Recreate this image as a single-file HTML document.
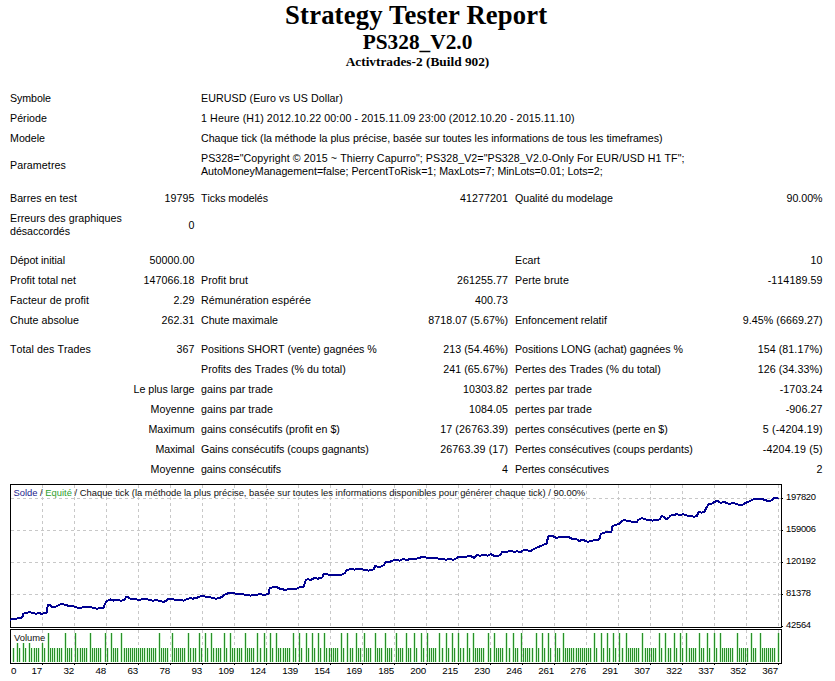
<!DOCTYPE html>
<html><head><meta charset="utf-8"><title>Strategy Tester Report</title>
<style>
html,body{margin:0;padding:0;background:#fff;}
body{width:835px;height:681px;position:relative;overflow:hidden;}
.h{position:absolute;left:0;width:835px;text-align:center;font-family:"Liberation Serif",serif;font-weight:bold;color:#000;white-space:nowrap;}
.t{position:absolute;font-family:"Liberation Sans",sans-serif;font-size:10.6667px;line-height:13px;color:#000;white-space:nowrap;font-kerning:none;}
.chart{position:absolute;left:0;top:0;}
.cl{position:absolute;font-family:"Liberation Sans",sans-serif;font-size:9.8px;letter-spacing:-0.2px;line-height:10px;color:#000;white-space:nowrap;}
.cy{position:absolute;font-family:"Liberation Sans",sans-serif;font-size:9.4px;letter-spacing:-0.25px;line-height:10px;color:#000;white-space:nowrap;}
.ch{position:absolute;font-family:"Liberation Sans",sans-serif;font-size:9.4px;line-height:10px;color:#111;white-space:nowrap;}
</style></head><body>
<div class="h" style="top:0px;left:-1.25px;letter-spacing:0.167px;font-size:26.6667px;line-height:30px">Strategy Tester Report</div>
<div class="h" style="top:30px;font-size:21.3333px;line-height:25px">PS328_V2.0</div>
<div class="h" style="top:54px;font-size:13.3333px;line-height:16px">Activtrades-2 (Build 902)</div>
<div class="t" style="top:92px;left:10px;letter-spacing:-0.071px">Symbole</div>
<div class="t" style="top:92px;left:201px;letter-spacing:0.082px">EURUSD (Euro vs US Dollar)</div>
<div class="t" style="top:112px;left:10px;letter-spacing:0.033px">Période</div>
<div class="t" style="top:112px;left:201px;letter-spacing:0.101px">1 Heure (H1) 2012.10.22 00:00 - 2015.11.09 23:00 (2012.10.20 - 2015.11.10)</div>
<div class="t" style="top:132px;left:10px;letter-spacing:0.003px">Modele</div>
<div class="t" style="top:132px;left:201px;letter-spacing:-0.011px">Chaque tick (la méthode la plus précise, basée sur toutes les informations de tous les timeframes)</div>
<div class="t" style="top:158.5px;left:10px;letter-spacing:0.087px">Parametres</div>
<div class="t" style="top:152px;left:201px;letter-spacing:0.074px">PS328=&quot;Copyright © 2015 ~ Thierry Capurro&quot;; PS328_V2=&quot;PS328_V2.0-Only For EUR/USD H1 TF&quot;;</div>
<div class="t" style="top:165px;left:201px;letter-spacing:-0.012px">AutoMoneyManagement=false; PercentToRisk=1; MaxLots=7; MinLots=0.01; Lots=2;</div>
<div class="t" style="top:192px;left:10px;letter-spacing:0.043px">Barres en test</div>
<div class="t" style="top:192px;right:640.43px;letter-spacing:0.068px">19795</div>
<div class="t" style="top:192px;left:201px;letter-spacing:-0.090px">Ticks modelés</div>
<div class="t" style="top:192px;right:326.93px;letter-spacing:0.068px">41277201</div>
<div class="t" style="top:192px;left:515px;letter-spacing:-0.023px">Qualité du modelage</div>
<div class="t" style="top:192px;right:12.53px;letter-spacing:-0.030px">90.00%</div>
<div class="t" style="top:212px;left:10px;letter-spacing:0.051px">Erreurs des graphiques</div>
<div class="t" style="top:225px;left:10px;letter-spacing:-0.044px">désaccordés</div>
<div class="t" style="top:218.5px;right:640.43px;letter-spacing:0.068px">0</div>
<div class="t" style="top:254px;left:10px;letter-spacing:-0.057px">Dépot initial</div>
<div class="t" style="top:254px;right:640.44px;letter-spacing:0.064px">50000.00</div>
<div class="t" style="top:254px;left:515px;letter-spacing:0.021px">Ecart</div>
<div class="t" style="top:254px;right:12.43px;letter-spacing:0.068px">10</div>
<div class="t" style="top:274px;left:10px;letter-spacing:0.012px">Profit total net</div>
<div class="t" style="top:274px;right:640.44px;letter-spacing:0.064px">147066.18</div>
<div class="t" style="top:274px;left:201px;letter-spacing:0.069px">Profit brut</div>
<div class="t" style="top:274px;right:326.94px;letter-spacing:0.064px">261255.77</div>
<div class="t" style="top:274px;left:515px;letter-spacing:0.112px">Perte brute</div>
<div class="t" style="top:274px;right:12.40px;letter-spacing:0.103px">-114189.59</div>
<div class="t" style="top:294px;left:10px;letter-spacing:0.078px">Facteur de profit</div>
<div class="t" style="top:294px;right:640.44px;letter-spacing:0.060px">2.29</div>
<div class="t" style="top:294px;left:201px;letter-spacing:0.074px">Rémunération espérée</div>
<div class="t" style="top:294px;right:326.94px;letter-spacing:0.062px">400.73</div>
<div class="t" style="top:314px;left:10px;letter-spacing:0.016px">Chute absolue</div>
<div class="t" style="top:314px;right:640.44px;letter-spacing:0.062px">262.31</div>
<div class="t" style="top:314px;left:201px;letter-spacing:-0.005px">Chute maximale</div>
<div class="t" style="top:314px;right:326.92px;letter-spacing:0.075px">8718.07 (5.67%)</div>
<div class="t" style="top:314px;left:515px;letter-spacing:0.005px">Enfoncement relatif</div>
<div class="t" style="top:314px;right:12.42px;letter-spacing:0.075px">9.45% (6669.27)</div>
<div class="t" style="top:343px;left:10px;letter-spacing:0.060px">Total des Trades</div>
<div class="t" style="top:343px;right:640.43px;letter-spacing:0.068px">367</div>
<div class="t" style="top:343px;left:201px;letter-spacing:-0.002px">Positions SHORT (vente) gagnées %</div>
<div class="t" style="top:343px;right:326.92px;letter-spacing:0.080px">213 (54.46%)</div>
<div class="t" style="top:343px;left:515px;letter-spacing:-0.030px">Positions LONG (achat) gagnées %</div>
<div class="t" style="top:343px;right:12.42px;letter-spacing:0.080px">154 (81.17%)</div>
<div class="t" style="top:363px;left:201px;letter-spacing:0.030px">Profits des Trades (% du total)</div>
<div class="t" style="top:363px;right:326.92px;letter-spacing:0.080px">241 (65.67%)</div>
<div class="t" style="top:363px;left:515px;letter-spacing:0.045px">Pertes des Trades (% du total)</div>
<div class="t" style="top:363px;right:12.42px;letter-spacing:0.080px">126 (34.33%)</div>
<div class="t" style="top:383px;right:640.51px;letter-spacing:-0.006px">Le plus large</div>
<div class="t" style="top:383px;left:201px;letter-spacing:0.056px">gains par trade</div>
<div class="t" style="top:383px;right:326.94px;letter-spacing:0.064px">10303.82</div>
<div class="t" style="top:383px;left:515px;letter-spacing:0.106px">pertes par trade</div>
<div class="t" style="top:383px;right:12.39px;letter-spacing:0.111px">-1703.24</div>
<div class="t" style="top:403px;right:640.48px;letter-spacing:0.017px">Moyenne</div>
<div class="t" style="top:403px;left:201px;letter-spacing:0.056px">gains par trade</div>
<div class="t" style="top:403px;right:326.94px;letter-spacing:0.063px">1084.05</div>
<div class="t" style="top:403px;left:515px;letter-spacing:0.106px">pertes par trade</div>
<div class="t" style="top:403px;right:12.38px;letter-spacing:0.118px">-906.27</div>
<div class="t" style="top:423px;right:640.53px;letter-spacing:-0.032px">Maximum</div>
<div class="t" style="top:423px;left:201px;letter-spacing:-0.011px">gains consécutifs (profit en $)</div>
<div class="t" style="top:423px;right:326.88px;letter-spacing:0.121px">17 (26763.39)</div>
<div class="t" style="top:423px;left:515px;letter-spacing:0.020px">pertes consécutives (perte en $)</div>
<div class="t" style="top:423px;right:12.34px;letter-spacing:0.158px">5 (-4204.19)</div>
<div class="t" style="top:443px;right:640.60px;letter-spacing:-0.101px">Maximal</div>
<div class="t" style="top:443px;left:201px;letter-spacing:-0.046px">Gains consécutifs (coups gagnants)</div>
<div class="t" style="top:443px;right:326.88px;letter-spacing:0.121px">26763.39 (17)</div>
<div class="t" style="top:443px;left:515px;letter-spacing:-0.013px">Pertes consécutives (coups perdants)</div>
<div class="t" style="top:443px;right:12.34px;letter-spacing:0.158px">-4204.19 (5)</div>
<div class="t" style="top:463px;right:640.48px;letter-spacing:0.017px">Moyenne</div>
<div class="t" style="top:463px;left:201px;letter-spacing:-0.107px">gains consécutifs</div>
<div class="t" style="top:463px;right:326.93px;letter-spacing:0.068px">4</div>
<div class="t" style="top:463px;left:515px;letter-spacing:-0.076px">Pertes consécutives</div>
<div class="t" style="top:463px;right:12.43px;letter-spacing:0.068px">2</div>
<svg class="chart" width="835" height="681" viewBox="0 0 835 681">
<path d="M13.5 648V662 M17.5 643V662 M19.5 648V662 M23.5 643V662 M25.5 648V662 M29.5 643V662 M31.5 648V662 M34.5 648V662 M36.5 648V662 M38.5 648V662 M42.5 643V662 M44.5 648V662 M48.5 633V662 M50.5 648V662 M52.5 648V662 M54.5 648V662 M57.5 648V662 M59.5 648V662 M61.5 648V662 M65.5 633V662 M67.5 648V662 M69.5 648V662 M71.5 648V662 M75.5 633V662 M77.5 648V662 M80.5 648V662 M82.5 648V662 M84.5 648V662 M86.5 648V662 M90.5 633V662 M92.5 648V662 M94.5 648V662 M96.5 648V662 M98.5 648V662 M100.5 648V662 M105.5 633V662 M107.5 648V662 M111.5 633V662 M113.5 648V662 M115.5 648V662 M117.5 648V662 M121.5 633V662 M124.5 648V662 M126.5 648V662 M128.5 648V662 M130.5 648V662 M132.5 648V662 M134.5 648V662 M136.5 648V662 M138.5 648V662 M140.5 648V662 M142.5 648V662 M144.5 648V662 M147.5 648V662 M149.5 648V662 M151.5 648V662 M153.5 648V662 M155.5 648V662 M159.5 633V662 M161.5 648V662 M163.5 648V662 M165.5 648V662 M167.5 648V662 M172.5 633V662 M174.5 648V662 M176.5 648V662 M178.5 648V662 M180.5 648V662 M182.5 648V662 M184.5 648V662 M188.5 633V662 M190.5 648V662 M193.5 648V662 M195.5 648V662 M199.5 633V662 M201.5 648V662 M205.5 633V662 M207.5 648V662 M211.5 633V662 M213.5 648V662 M216.5 648V662 M218.5 648V662 M220.5 648V662 M224.5 633V662 M226.5 648V662 M230.5 633V662 M232.5 648V662 M234.5 648V662 M237.5 648V662 M239.5 648V662 M241.5 648V662 M245.5 633V662 M247.5 648V662 M249.5 648V662 M251.5 648V662 M253.5 648V662 M257.5 633V662 M260.5 648V662 M264.5 633V662 M266.5 648V662 M270.5 633V662 M272.5 648V662 M276.5 633V662 M278.5 648V662 M280.5 648V662 M283.5 648V662 M285.5 648V662 M287.5 648V662 M289.5 648V662 M293.5 633V662 M295.5 648V662 M299.5 633V662 M301.5 648V662 M306.5 633V662 M308.5 648V662 M312.5 633V662 M314.5 648V662 M318.5 633V662 M320.5 648V662 M324.5 633V662 M326.5 648V662 M329.5 648V662 M331.5 648V662 M333.5 648V662 M335.5 648V662 M337.5 648V662 M341.5 633V662 M343.5 648V662 M347.5 633V662 M350.5 648V662 M352.5 648V662 M356.5 633V662 M358.5 648V662 M360.5 648V662 M364.5 633V662 M366.5 648V662 M368.5 648V662 M370.5 648V662 M375.5 633V662 M377.5 648V662 M379.5 648V662 M381.5 648V662 M385.5 633V662 M387.5 648V662 M389.5 648V662 M391.5 648V662 M396.5 633V662 M398.5 648V662 M400.5 648V662 M402.5 648V662 M406.5 633V662 M408.5 648V662 M410.5 648V662 M414.5 633V662 M416.5 648V662 M421.5 633V662 M423.5 648V662 M427.5 633V662 M429.5 648V662 M431.5 648V662 M433.5 648V662 M435.5 648V662 M439.5 633V662 M442.5 648V662 M446.5 633V662 M448.5 648V662 M452.5 633V662 M454.5 648V662 M458.5 633V662 M460.5 648V662 M463.5 648V662 M467.5 633V662 M469.5 648V662 M473.5 633V662 M475.5 648V662 M477.5 648V662 M479.5 648V662 M481.5 648V662 M483.5 648V662 M488.5 633V662 M490.5 648V662 M494.5 633V662 M496.5 648V662 M498.5 648V662 M500.5 648V662 M502.5 648V662 M506.5 633V662 M509.5 648V662 M513.5 633V662 M515.5 648V662 M517.5 648V662 M521.5 633V662 M523.5 648V662 M525.5 648V662 M527.5 648V662 M529.5 648V662 M532.5 648V662 M536.5 633V662 M538.5 648V662 M542.5 633V662 M544.5 648V662 M548.5 633V662 M550.5 648V662 M555.5 633V662 M557.5 648V662 M559.5 648V662 M563.5 633V662 M565.5 648V662 M567.5 648V662 M569.5 648V662 M571.5 648V662 M573.5 648V662 M576.5 648V662 M578.5 648V662 M580.5 648V662 M582.5 648V662 M584.5 648V662 M586.5 648V662 M588.5 648V662 M590.5 648V662 M594.5 633V662 M596.5 648V662 M601.5 633V662 M603.5 648V662 M607.5 633V662 M609.5 648V662 M613.5 633V662 M615.5 648V662 M619.5 633V662 M622.5 648V662 M626.5 633V662 M628.5 648V662 M630.5 648V662 M632.5 648V662 M634.5 648V662 M636.5 648V662 M638.5 648V662 M642.5 633V662 M645.5 648V662 M647.5 648V662 M649.5 648V662 M651.5 648V662 M653.5 648V662 M655.5 648V662 M659.5 633V662 M661.5 648V662 M665.5 633V662 M668.5 648V662 M670.5 648V662 M674.5 633V662 M676.5 648V662 M680.5 633V662 M682.5 648V662 M686.5 633V662 M689.5 648V662 M691.5 648V662 M693.5 648V662 M695.5 648V662 M699.5 633V662 M701.5 648V662 M703.5 648V662 M707.5 633V662 M709.5 648V662 M714.5 633V662 M716.5 648V662 M720.5 633V662 M722.5 648V662 M724.5 648V662 M726.5 648V662 M728.5 648V662 M730.5 648V662 M732.5 648V662 M737.5 633V662 M739.5 648V662 M741.5 648V662 M743.5 648V662 M745.5 648V662 M747.5 648V662 M751.5 633V662 M753.5 648V662 M755.5 648V662 M760.5 633V662 M762.5 648V662 M764.5 648V662 M766.5 648V662 M768.5 648V662 M770.5 648V662 M772.5 648V662 M774.5 648V662 M778.5 633V662" stroke="#d2f4d2" stroke-width="3"/>
<path d="M42.5 485V627 M42.5 630V662 M74.5 485V627 M74.5 630V662 M106.5 485V627 M106.5 630V662 M138.5 485V627 M138.5 630V662 M170.5 485V627 M170.5 630V662 M202.5 485V627 M202.5 630V662 M234.5 485V627 M234.5 630V662 M266.5 485V627 M266.5 630V662 M298.5 485V627 M298.5 630V662 M330.5 485V627 M330.5 630V662 M362.5 485V627 M362.5 630V662 M394.5 485V627 M394.5 630V662 M426.5 485V627 M426.5 630V662 M458.5 485V627 M458.5 630V662 M490.5 485V627 M490.5 630V662 M522.5 485V627 M522.5 630V662 M554.5 485V627 M554.5 630V662 M586.5 485V627 M586.5 630V662 M618.5 485V627 M618.5 630V662 M650.5 485V627 M650.5 630V662 M682.5 485V627 M682.5 630V662 M714.5 485V627 M714.5 630V662 M746.5 485V627 M746.5 630V662 M778.5 485V627 M778.5 630V662 M11 498.5H781 M11 530.5H781 M11 562.5H781 M11 594.5H781" stroke="#c8c8c8" stroke-width="1" stroke-dasharray="3 3" fill="none"/>
<path d="M13.5 648V662 M17.5 643V662 M19.5 648V662 M23.5 643V662 M25.5 648V662 M29.5 643V662 M31.5 648V662 M34.5 648V662 M36.5 648V662 M38.5 648V662 M42.5 643V662 M44.5 648V662 M48.5 633V662 M50.5 648V662 M52.5 648V662 M54.5 648V662 M57.5 648V662 M59.5 648V662 M61.5 648V662 M65.5 633V662 M67.5 648V662 M69.5 648V662 M71.5 648V662 M75.5 633V662 M77.5 648V662 M80.5 648V662 M82.5 648V662 M84.5 648V662 M86.5 648V662 M90.5 633V662 M92.5 648V662 M94.5 648V662 M96.5 648V662 M98.5 648V662 M100.5 648V662 M105.5 633V662 M107.5 648V662 M111.5 633V662 M113.5 648V662 M115.5 648V662 M117.5 648V662 M121.5 633V662 M124.5 648V662 M126.5 648V662 M128.5 648V662 M130.5 648V662 M132.5 648V662 M134.5 648V662 M136.5 648V662 M138.5 648V662 M140.5 648V662 M142.5 648V662 M144.5 648V662 M147.5 648V662 M149.5 648V662 M151.5 648V662 M153.5 648V662 M155.5 648V662 M159.5 633V662 M161.5 648V662 M163.5 648V662 M165.5 648V662 M167.5 648V662 M172.5 633V662 M174.5 648V662 M176.5 648V662 M178.5 648V662 M180.5 648V662 M182.5 648V662 M184.5 648V662 M188.5 633V662 M190.5 648V662 M193.5 648V662 M195.5 648V662 M199.5 633V662 M201.5 648V662 M205.5 633V662 M207.5 648V662 M211.5 633V662 M213.5 648V662 M216.5 648V662 M218.5 648V662 M220.5 648V662 M224.5 633V662 M226.5 648V662 M230.5 633V662 M232.5 648V662 M234.5 648V662 M237.5 648V662 M239.5 648V662 M241.5 648V662 M245.5 633V662 M247.5 648V662 M249.5 648V662 M251.5 648V662 M253.5 648V662 M257.5 633V662 M260.5 648V662 M264.5 633V662 M266.5 648V662 M270.5 633V662 M272.5 648V662 M276.5 633V662 M278.5 648V662 M280.5 648V662 M283.5 648V662 M285.5 648V662 M287.5 648V662 M289.5 648V662 M293.5 633V662 M295.5 648V662 M299.5 633V662 M301.5 648V662 M306.5 633V662 M308.5 648V662 M312.5 633V662 M314.5 648V662 M318.5 633V662 M320.5 648V662 M324.5 633V662 M326.5 648V662 M329.5 648V662 M331.5 648V662 M333.5 648V662 M335.5 648V662 M337.5 648V662 M341.5 633V662 M343.5 648V662 M347.5 633V662 M350.5 648V662 M352.5 648V662 M356.5 633V662 M358.5 648V662 M360.5 648V662 M364.5 633V662 M366.5 648V662 M368.5 648V662 M370.5 648V662 M375.5 633V662 M377.5 648V662 M379.5 648V662 M381.5 648V662 M385.5 633V662 M387.5 648V662 M389.5 648V662 M391.5 648V662 M396.5 633V662 M398.5 648V662 M400.5 648V662 M402.5 648V662 M406.5 633V662 M408.5 648V662 M410.5 648V662 M414.5 633V662 M416.5 648V662 M421.5 633V662 M423.5 648V662 M427.5 633V662 M429.5 648V662 M431.5 648V662 M433.5 648V662 M435.5 648V662 M439.5 633V662 M442.5 648V662 M446.5 633V662 M448.5 648V662 M452.5 633V662 M454.5 648V662 M458.5 633V662 M460.5 648V662 M463.5 648V662 M467.5 633V662 M469.5 648V662 M473.5 633V662 M475.5 648V662 M477.5 648V662 M479.5 648V662 M481.5 648V662 M483.5 648V662 M488.5 633V662 M490.5 648V662 M494.5 633V662 M496.5 648V662 M498.5 648V662 M500.5 648V662 M502.5 648V662 M506.5 633V662 M509.5 648V662 M513.5 633V662 M515.5 648V662 M517.5 648V662 M521.5 633V662 M523.5 648V662 M525.5 648V662 M527.5 648V662 M529.5 648V662 M532.5 648V662 M536.5 633V662 M538.5 648V662 M542.5 633V662 M544.5 648V662 M548.5 633V662 M550.5 648V662 M555.5 633V662 M557.5 648V662 M559.5 648V662 M563.5 633V662 M565.5 648V662 M567.5 648V662 M569.5 648V662 M571.5 648V662 M573.5 648V662 M576.5 648V662 M578.5 648V662 M580.5 648V662 M582.5 648V662 M584.5 648V662 M586.5 648V662 M588.5 648V662 M590.5 648V662 M594.5 633V662 M596.5 648V662 M601.5 633V662 M603.5 648V662 M607.5 633V662 M609.5 648V662 M613.5 633V662 M615.5 648V662 M619.5 633V662 M622.5 648V662 M626.5 633V662 M628.5 648V662 M630.5 648V662 M632.5 648V662 M634.5 648V662 M636.5 648V662 M638.5 648V662 M642.5 633V662 M645.5 648V662 M647.5 648V662 M649.5 648V662 M651.5 648V662 M653.5 648V662 M655.5 648V662 M659.5 633V662 M661.5 648V662 M665.5 633V662 M668.5 648V662 M670.5 648V662 M674.5 633V662 M676.5 648V662 M680.5 633V662 M682.5 648V662 M686.5 633V662 M689.5 648V662 M691.5 648V662 M693.5 648V662 M695.5 648V662 M699.5 633V662 M701.5 648V662 M703.5 648V662 M707.5 633V662 M709.5 648V662 M714.5 633V662 M716.5 648V662 M720.5 633V662 M722.5 648V662 M724.5 648V662 M726.5 648V662 M728.5 648V662 M730.5 648V662 M732.5 648V662 M737.5 633V662 M739.5 648V662 M741.5 648V662 M743.5 648V662 M745.5 648V662 M747.5 648V662 M751.5 633V662 M753.5 648V662 M755.5 648V662 M760.5 633V662 M762.5 648V662 M764.5 648V662 M766.5 648V662 M768.5 648V662 M770.5 648V662 M772.5 648V662 M774.5 648V662 M778.5 633V662" stroke="#2a8f2a" stroke-width="1"/>
<rect x="10.5" y="484.5" width="771" height="143" fill="none" stroke="#000" stroke-width="1"/>
<rect x="10.5" y="629.5" width="771" height="34" fill="none" stroke="#000" stroke-width="1"/>
<path d="M782 498.5H783 M782 530.5H783 M782 562.5H783 M782 594.5H783 M782 626.5H783 M42.5 664V665 M74.5 664V665 M106.5 664V665 M138.5 664V665 M170.5 664V665 M202.5 664V665 M234.5 664V665 M266.5 664V665 M298.5 664V665 M330.5 664V665 M362.5 664V665 M394.5 664V665 M426.5 664V665 M458.5 664V665 M490.5 664V665 M522.5 664V665 M554.5 664V665 M586.5 664V665 M618.5 664V665 M650.5 664V665 M682.5 664V665 M714.5 664V665 M746.5 664V665 M778.5 664V665" stroke="#000" stroke-width="1"/>
<polyline points="10.0,619.7 13.7,618.7 17.6,618.5 20.5,617.8 22.4,617.3 23.3,613.8 25.2,613 29.1,612.2 33.9,613 35.8,613.8 38.7,613 41.5,613.8 45.4,613 46.8,612.2 47.3,609.2 47.8,604.8 49.2,604.6 52.1,606.8 55.9,606.5 57.8,605.5 60.7,604.2 62.6,603.9 65.5,605.3 70.3,605.8 74.1,606.5 77.9,607.7 83.7,607.4 85,607.2 89.8,606.8 93.4,607.8 97,608.7 100.6,608 103.6,607.5 104.8,604.2 106.6,601.2 110.7,599.4 113.7,600.6 117.3,600 120.9,600.6 123.9,600.3 126.3,597 128.1,597.2 130.5,598.8 135.3,599.1 138.9,600 142.5,599.1 147.3,599.4 152.1,600.6 156.9,600.3 162.8,601.8 166.4,601.2 167.6,598.8 171.2,598.8 176,600 180.8,600.3 183.6,600.6 186.6,599.2 189.6,598.2 193.2,598.6 198,597.4 201.6,595.8 205.1,596.5 208.7,596.8 212.3,598 215.9,598.6 219.5,598.2 223.1,596.2 225.5,594.1 230.3,592.6 233.9,593.2 236.3,594 242.3,594.1 245.9,595 250.7,595.6 255.4,595 260.2,594.1 263.8,595 268.6,593.8 269.8,587.8 274.6,587.2 275.8,586.6 279.8,588.6 284.6,589.8 289.4,589.2 296.6,588.6 300.1,587 303.7,586.5 305.5,580.8 307.3,579.3 310.9,579.8 314.5,578.1 318.1,578.6 322.3,577.4 323.5,574.2 326.5,574.2 331.3,575.4 337.3,575 342.1,574.6 344.8,573 346.6,570 350.8,569.1 354.4,569.6 359.2,568.8 364,569.6 368.7,570.6 373.5,569.4 375.3,566 378.3,567 381.9,566.4 384.3,564.6 385.5,562.2 389.1,562.4 391.5,560.7 396.3,560 399.9,560.7 402.3,559.2 407.1,559.8 411.9,558.8 419,558.4 421.4,556.8 425,557.2 428.6,558 433.4,558.4 435.8,557.6 438.6,558.6 443.4,558.9 445.8,559.8 449.4,558.9 453,559.8 455.4,558.9 457.8,557.4 461.3,556.8 466.1,556.8 469.7,555.8 472.1,556.8 474.5,558 476.3,555.3 480.5,555.6 484.1,555 487.7,555.6 490.7,554.1 493.7,555.6 498.5,555.8 500.9,554.1 502.1,552 506.9,551.7 510.4,551 514,551.7 517.6,551.4 520.6,552.2 523.6,550.2 528.4,550.5 530.8,550.8 533.6,549.3 537.2,547.5 542,545.4 546.8,543.4 548,536.8 550.4,535.6 552.8,536.2 556.3,538 559.9,536.8 568.3,536.8 571.9,538.6 576.7,539.4 579.1,541 582.7,539.8 587.5,541.8 591.1,541 595.9,539.8 599.5,539.4 600.7,534.1 603.1,532.9 606.6,532.2 611.4,531.7 612.6,526 615,525 618.6,524.2 621,521.8 623.4,520.2 625,520.4 629.8,521 633.4,522.5 637,522.2 638.2,519.8 641.8,518.2 645.4,519.4 649,519.8 652.5,520.6 656.1,520.1 659.7,519.4 661.5,515.8 663.3,516.8 666.3,519.2 669.3,517.4 670.5,515.6 674.1,515 676.5,514.1 680.1,515.3 683.1,514.1 687.3,515.6 692.1,516.2 694.5,516.8 696.9,515.8 698.7,512 701.6,512.6 704.3,511.9 706.5,507.6 708.6,504.3 711.9,503.5 715.1,501.6 717.2,500.9 720.5,502.7 724.8,502.2 729.1,503.8 733.4,503 737.7,504.5 743.1,504.5 745.3,503.2 749.6,501.1 752.8,499.5 758.2,498.9 763.6,499.5 766.8,500.6 771.1,500.6 774.4,497.9 776.5,497.9 778.7,498.9" fill="none" stroke="#000090" stroke-width="2" stroke-linejoin="round" stroke-linecap="butt" shape-rendering="crispEdges"/>
</svg>
<div class="cy" style="top:491.7px;left:786px">197820</div>
<div class="cy" style="top:523.7px;left:786px">159006</div>
<div class="cy" style="top:555.7px;left:786px">120192</div>
<div class="cy" style="top:587.7px;left:786px">81378</div>
<div class="cy" style="top:619.7px;left:786px">42564</div>
<div class="cl" style="top:666px;left:11px">0</div>
<div class="cl" style="top:666px;right:793.0px">17</div>
<div class="cl" style="top:666px;right:761.0px">32</div>
<div class="cl" style="top:666px;right:729.0px">48</div>
<div class="cl" style="top:666px;right:697.0px">63</div>
<div class="cl" style="top:666px;right:665.0px">78</div>
<div class="cl" style="top:666px;right:633.0px">93</div>
<div class="cl" style="top:666px;right:601.0px">109</div>
<div class="cl" style="top:666px;right:569.0px">124</div>
<div class="cl" style="top:666px;right:537.0px">139</div>
<div class="cl" style="top:666px;right:505.0px">154</div>
<div class="cl" style="top:666px;right:473.0px">169</div>
<div class="cl" style="top:666px;right:441.0px">185</div>
<div class="cl" style="top:666px;right:409.0px">200</div>
<div class="cl" style="top:666px;right:377.0px">215</div>
<div class="cl" style="top:666px;right:345.0px">230</div>
<div class="cl" style="top:666px;right:313.0px">246</div>
<div class="cl" style="top:666px;right:281.0px">261</div>
<div class="cl" style="top:666px;right:249.0px">276</div>
<div class="cl" style="top:666px;right:217.0px">291</div>
<div class="cl" style="top:666px;right:185.0px">307</div>
<div class="cl" style="top:666px;right:153.0px">322</div>
<div class="cl" style="top:666px;right:121.0px">337</div>
<div class="cl" style="top:666px;right:89.0px">352</div>
<div class="cl" style="top:666px;right:57.0px">367</div>
<div class="ch" style="top:488px;left:13.5px"><span style="color:#1c1c8c">Solde</span> / <span style="color:#2ea02e">Equité</span> / Chaque tick (la méthode la plus précise, basée sur toutes les informations disponibles pour générer chaque tick) / 90.00%</div>
<div class="ch" style="top:633px;left:14px">Volume</div>
</body></html>
